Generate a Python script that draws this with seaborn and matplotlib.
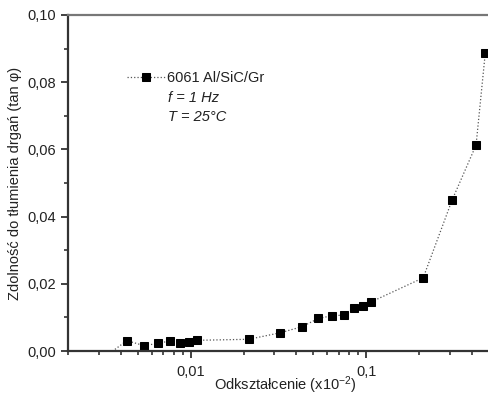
import matplotlib
matplotlib.use("Agg")
import matplotlib.pyplot as plt
import matplotlib.ticker as mticker
import seaborn as sns
import pandas as pd
import numpy as np

strain = [0.0030, 0.00433, 0.00543, 0.00652, 0.0076, 0.00869, 0.00978, 0.0109,
          0.0214, 0.0321, 0.0428, 0.0534, 0.0635, 0.0748, 0.0852, 0.0958,
          0.1064, 0.211, 0.308, 0.422, 0.476]
damping = [-0.0030, 0.0031, 0.0016, 0.0023, 0.0030, 0.0023, 0.0026, 0.0032,
           0.0035, 0.0054, 0.0072, 0.0097, 0.0105, 0.0107, 0.0129, 0.0134,
           0.0146, 0.0218, 0.0449, 0.0613, 0.0886]
series_name = "6061 Al/SiC/Gr"

sns.set_theme(style="ticks")
plt.rcParams['font.family'] = ['Liberation Sans', 'DejaVu Sans']
plt.rcParams['mathtext.fontset'] = 'custom'
plt.rcParams['mathtext.rm'] = 'Liberation Sans'
plt.rcParams['mathtext.it'] = 'Liberation Sans:italic'

df = pd.DataFrame({"strain": strain, "damping": damping, "series": series_name})

fig = plt.figure(figsize=(4.89, 3.94), dpi=100)
ax = fig.add_axes([0.139, 0.109, 0.861, 0.853])

sns.lineplot(data=df, x="strain", y="damping", hue="series", palette=["black"],
             marker="s", markersize=6, linestyle=":", linewidth=0.9,
             markeredgecolor="black", ax=ax, sort=False, estimator=None)
for l in ax.lines:
    l.set_color("#555555")
    l.set_markerfacecolor("black")
    l.set_markeredgecolor("black")

ax.set_xscale("log")
ax.set_xlim(0.002, 0.5)
ax.set_ylim(0.0, 0.10)

ax.yaxis.set_major_locator(mticker.MultipleLocator(0.02))
ax.yaxis.set_minor_locator(mticker.MultipleLocator(0.01))
ax.yaxis.set_major_formatter(mticker.FuncFormatter(lambda v, p: f"{v:.2f}".replace(".", ",")))
ax.xaxis.set_major_locator(mticker.FixedLocator([0.01, 0.1]))
ax.xaxis.set_major_formatter(mticker.FixedFormatter(["0,01", "0,1"]))
ax.xaxis.set_minor_locator(mticker.LogLocator(base=10, subs=np.arange(2, 10)))
ax.xaxis.set_minor_formatter(mticker.NullFormatter())

for s in ["left", "bottom", "top"]:
    ax.spines[s].set_linewidth(1.6)
    ax.spines[s].set_color("#333333")
ax.spines["top"].set_color("#777777")
ax.spines["right"].set_visible(False)

ax.tick_params(axis="both", which="major", direction="out", length=5, width=1.3,
               color="#333333", labelsize=10.5, labelcolor="#222222", top=False, right=False)
ax.tick_params(axis="both", which="minor", direction="out", length=3, width=1.2,
               color="#333333", top=False, right=False)
ax.tick_params(axis="x", which="major", pad=5)

ax.set_xlabel("Odkształcenie (x10$^{-2}$)", fontsize=10.5, color="#222222")
ax.xaxis.set_label_coords(0.515, -0.068)
ax.set_ylabel("Zdolność do tłumienia drgań (tan φ)", fontsize=10.5, color="#222222", labelpad=4)

leg = ax.legend(loc="upper left", bbox_to_anchor=(0.11, 0.872), frameon=False,
                handlelength=2.6, handletextpad=0.1, fontsize=10.5, title=None)
for t in leg.get_texts():
    t.set_color("#222222")
ax.text(0.237, 0.753, "f = 1 Hz", transform=ax.transAxes, fontsize=10.5,
        style="italic", va="center", color="#222222")
ax.text(0.237, 0.696, "T = 25°C", transform=ax.transAxes, fontsize=10.5,
        style="italic", va="center", color="#222222")

fig.savefig("out.png", dpi=100)
